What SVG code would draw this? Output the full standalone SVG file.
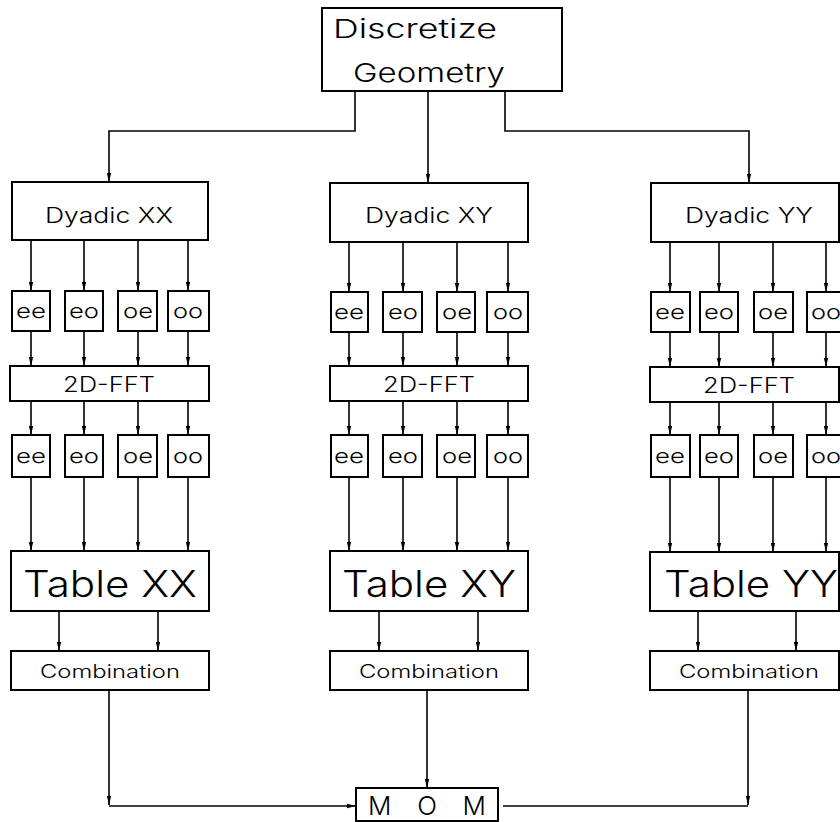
<svg xmlns="http://www.w3.org/2000/svg" width="840" height="822" viewBox="0 0 840 822">
<defs>
<style>
.box{fill:#fff;stroke:#000;stroke-width:2}
.c{fill:none;stroke:#000;stroke-width:1.6}
.t{font-family:Inter,"DejaVu Sans","Liberation Sans",sans-serif;font-weight:300;fill:#000;text-anchor:middle}
.tl{font-family:Inter,"DejaVu Sans","Liberation Sans",sans-serif;font-weight:300;fill:#000}
.s{font-size:20px}
.d{font-size:21px}
.f{font-size:21px}
.tb{font-size:37px}
.cb{font-size:18px}
</style>
<marker id="ah" viewBox="0 0 10 10" refX="10" refY="5" markerWidth="9" markerHeight="9" markerUnits="userSpaceOnUse" orient="auto">
<path d="M0,2.6 L10,5 L0,7.4 z" fill="#000"/>
</marker>
</defs>
<rect width="840" height="822" fill="#fff"/>

<g id="connectors">
<path class="c" d="M355,91 V131 H109 V182" marker-end="url(#ah)"/>
<path class="c" d="M428,91 V183" marker-end="url(#ah)"/>
<path class="c" d="M505,91 V131 H749 V183" marker-end="url(#ah)"/>
<path class="c" d="M31,240 V291" marker-end="url(#ah)"/>
<path class="c" d="M84,240 V291" marker-end="url(#ah)"/>
<path class="c" d="M138,240 V291" marker-end="url(#ah)"/>
<path class="c" d="M188,240 V291" marker-end="url(#ah)"/>
<path class="c" d="M31,331 V366" marker-end="url(#ah)"/>
<path class="c" d="M84,331 V366" marker-end="url(#ah)"/>
<path class="c" d="M138,331 V366" marker-end="url(#ah)"/>
<path class="c" d="M188,331 V366" marker-end="url(#ah)"/>
<path class="c" d="M31,401 V435" marker-end="url(#ah)"/>
<path class="c" d="M84,401 V435" marker-end="url(#ah)"/>
<path class="c" d="M138,401 V435" marker-end="url(#ah)"/>
<path class="c" d="M188,401 V435" marker-end="url(#ah)"/>
<path class="c" d="M31,477 V551" marker-end="url(#ah)"/>
<path class="c" d="M84,477 V551" marker-end="url(#ah)"/>
<path class="c" d="M138,477 V551" marker-end="url(#ah)"/>
<path class="c" d="M188,477 V551" marker-end="url(#ah)"/>
<path class="c" d="M59,611 V651" marker-end="url(#ah)"/>
<path class="c" d="M158,611 V651" marker-end="url(#ah)"/>
<path class="c" d="M349,242 V292" marker-end="url(#ah)"/>
<path class="c" d="M403,242 V292" marker-end="url(#ah)"/>
<path class="c" d="M457,242 V292" marker-end="url(#ah)"/>
<path class="c" d="M508,242 V292" marker-end="url(#ah)"/>
<path class="c" d="M349,332 V366" marker-end="url(#ah)"/>
<path class="c" d="M403,332 V366" marker-end="url(#ah)"/>
<path class="c" d="M457,332 V366" marker-end="url(#ah)"/>
<path class="c" d="M508,332 V366" marker-end="url(#ah)"/>
<path class="c" d="M349,401 V435" marker-end="url(#ah)"/>
<path class="c" d="M403,401 V435" marker-end="url(#ah)"/>
<path class="c" d="M457,401 V435" marker-end="url(#ah)"/>
<path class="c" d="M508,401 V435" marker-end="url(#ah)"/>
<path class="c" d="M349,477 V551" marker-end="url(#ah)"/>
<path class="c" d="M403,477 V551" marker-end="url(#ah)"/>
<path class="c" d="M457,477 V551" marker-end="url(#ah)"/>
<path class="c" d="M508,477 V551" marker-end="url(#ah)"/>
<path class="c" d="M379,611 V651" marker-end="url(#ah)"/>
<path class="c" d="M478,611 V651" marker-end="url(#ah)"/>
<path class="c" d="M670,242 V292" marker-end="url(#ah)"/>
<path class="c" d="M719,242 V292" marker-end="url(#ah)"/>
<path class="c" d="M773,242 V292" marker-end="url(#ah)"/>
<path class="c" d="M826,242 V292" marker-end="url(#ah)"/>
<path class="c" d="M670,332 V367" marker-end="url(#ah)"/>
<path class="c" d="M719,332 V367" marker-end="url(#ah)"/>
<path class="c" d="M773,332 V367" marker-end="url(#ah)"/>
<path class="c" d="M826,332 V367" marker-end="url(#ah)"/>
<path class="c" d="M670,402 V435" marker-end="url(#ah)"/>
<path class="c" d="M719,402 V435" marker-end="url(#ah)"/>
<path class="c" d="M773,402 V435" marker-end="url(#ah)"/>
<path class="c" d="M826,402 V435" marker-end="url(#ah)"/>
<path class="c" d="M670,477 V552" marker-end="url(#ah)"/>
<path class="c" d="M719,477 V552" marker-end="url(#ah)"/>
<path class="c" d="M773,477 V552" marker-end="url(#ah)"/>
<path class="c" d="M826,477 V552" marker-end="url(#ah)"/>
<path class="c" d="M698,611 V651" marker-end="url(#ah)"/>
<path class="c" d="M796,611 V651" marker-end="url(#ah)"/>
<path class="c" d="M109,690 V805" marker-end="url(#ah)"/>
<path class="c" d="M109,806 H356" marker-end="url(#ah)"/>
<path class="c" d="M427,690 V788" marker-end="url(#ah)"/>
<path class="c" d="M748,690 V805" marker-end="url(#ah)"/>
<path class="c" d="M503,806 H748"/>
</g>

<g id="discretize">
<rect class="box" x="322" y="8" width="240" height="83"/>
<text class="tl" x="333" y="38" font-size="26" textLength="164" lengthAdjust="spacingAndGlyphs">Discretize</text>
<text class="tl" x="353" y="82" font-size="26" textLength="152" lengthAdjust="spacingAndGlyphs">Geometry</text>
</g>

<g id="dyadic-xx">
<rect class="box" x="12" y="182" width="196" height="58"/>
<text class="t d" x="109" y="223" textLength="128" lengthAdjust="spacingAndGlyphs">Dyadic XX</text>
</g>
<g id="dyadic-xy">
<rect class="box" x="330" y="183" width="198" height="59"/>
<text class="t d" x="429" y="223" textLength="128" lengthAdjust="spacingAndGlyphs">Dyadic XY</text>
</g>
<g id="dyadic-yy">
<rect class="box" x="651" y="183" width="188" height="59"/>
<text class="t d" x="749" y="223" textLength="128" lengthAdjust="spacingAndGlyphs">Dyadic YY</text>
</g>

<g id="xx-ee-1"><rect class="box" x="12" y="291" width="38" height="40"/><text class="t s" x="31" y="318" textLength="30" lengthAdjust="spacingAndGlyphs">ee</text></g>
<g id="xx-eo-1"><rect class="box" x="65" y="291" width="38" height="40"/><text class="t s" x="84" y="318" textLength="30" lengthAdjust="spacingAndGlyphs">eo</text></g>
<g id="xx-oe-1"><rect class="box" x="118" y="291" width="39" height="40"/><text class="t s" x="138" y="318" textLength="30" lengthAdjust="spacingAndGlyphs">oe</text></g>
<g id="xx-oo-1"><rect class="box" x="168" y="291" width="41" height="40"/><text class="t s" x="188" y="318" textLength="30" lengthAdjust="spacingAndGlyphs">oo</text></g>

<g id="xy-ee-1"><rect class="box" x="331" y="292" width="37" height="40"/><text class="t s" x="349" y="319" textLength="30" lengthAdjust="spacingAndGlyphs">ee</text></g>
<g id="xy-eo-1"><rect class="box" x="383" y="292" width="39" height="40"/><text class="t s" x="403" y="319" textLength="30" lengthAdjust="spacingAndGlyphs">eo</text></g>
<g id="xy-oe-1"><rect class="box" x="437" y="292" width="38" height="40"/><text class="t s" x="457" y="319" textLength="30" lengthAdjust="spacingAndGlyphs">oe</text></g>
<g id="xy-oo-1"><rect class="box" x="487" y="292" width="41" height="40"/><text class="t s" x="508" y="319" textLength="30" lengthAdjust="spacingAndGlyphs">oo</text></g>

<g id="yy-ee-1"><rect class="box" x="651" y="292" width="39" height="40"/><text class="t s" x="670" y="319" textLength="30" lengthAdjust="spacingAndGlyphs">ee</text></g>
<g id="yy-eo-1"><rect class="box" x="700" y="292" width="38" height="40"/><text class="t s" x="719" y="319" textLength="30" lengthAdjust="spacingAndGlyphs">eo</text></g>
<g id="yy-oe-1"><rect class="box" x="754" y="292" width="39" height="40"/><text class="t s" x="773" y="319" textLength="30" lengthAdjust="spacingAndGlyphs">oe</text></g>
<g id="yy-oo-1"><rect class="box" x="807" y="292" width="34" height="40"/><text class="t s" x="826" y="319" textLength="30" lengthAdjust="spacingAndGlyphs">oo</text></g>

<g id="fft-xx"><rect class="box" x="10" y="366" width="199" height="35"/><text class="t f" x="109" y="392" textLength="92" lengthAdjust="spacingAndGlyphs">2D-FFT</text></g>
<g id="fft-xy"><rect class="box" x="330" y="366" width="198" height="35"/><text class="t f" x="429" y="392" textLength="92" lengthAdjust="spacingAndGlyphs">2D-FFT</text></g>
<g id="fft-yy"><rect class="box" x="650" y="367" width="189" height="35"/><text class="t f" x="749" y="393" textLength="92" lengthAdjust="spacingAndGlyphs">2D-FFT</text></g>

<g id="xx-ee-2"><rect class="box" x="12" y="435" width="38" height="42"/><text class="t s" x="31" y="463" textLength="30" lengthAdjust="spacingAndGlyphs">ee</text></g>
<g id="xx-eo-2"><rect class="box" x="65" y="435" width="38" height="42"/><text class="t s" x="84" y="463" textLength="30" lengthAdjust="spacingAndGlyphs">eo</text></g>
<g id="xx-oe-2"><rect class="box" x="118" y="435" width="39" height="42"/><text class="t s" x="138" y="463" textLength="30" lengthAdjust="spacingAndGlyphs">oe</text></g>
<g id="xx-oo-2"><rect class="box" x="168" y="435" width="41" height="42"/><text class="t s" x="188" y="463" textLength="30" lengthAdjust="spacingAndGlyphs">oo</text></g>

<g id="xy-ee-2"><rect class="box" x="331" y="435" width="37" height="42"/><text class="t s" x="349" y="463" textLength="30" lengthAdjust="spacingAndGlyphs">ee</text></g>
<g id="xy-eo-2"><rect class="box" x="383" y="435" width="39" height="42"/><text class="t s" x="403" y="463" textLength="30" lengthAdjust="spacingAndGlyphs">eo</text></g>
<g id="xy-oe-2"><rect class="box" x="437" y="435" width="38" height="42"/><text class="t s" x="457" y="463" textLength="30" lengthAdjust="spacingAndGlyphs">oe</text></g>
<g id="xy-oo-2"><rect class="box" x="487" y="435" width="41" height="42"/><text class="t s" x="508" y="463" textLength="30" lengthAdjust="spacingAndGlyphs">oo</text></g>

<g id="yy-ee-2"><rect class="box" x="651" y="435" width="39" height="42"/><text class="t s" x="670" y="463" textLength="30" lengthAdjust="spacingAndGlyphs">ee</text></g>
<g id="yy-eo-2"><rect class="box" x="700" y="435" width="38" height="42"/><text class="t s" x="719" y="463" textLength="30" lengthAdjust="spacingAndGlyphs">eo</text></g>
<g id="yy-oe-2"><rect class="box" x="754" y="435" width="39" height="42"/><text class="t s" x="773" y="463" textLength="30" lengthAdjust="spacingAndGlyphs">oe</text></g>
<g id="yy-oo-2"><rect class="box" x="807" y="435" width="34" height="42"/><text class="t s" x="826" y="463" textLength="30" lengthAdjust="spacingAndGlyphs">oo</text></g>

<g id="table-xx"><rect class="box" x="11" y="551" width="198" height="60"/><text class="t tb" x="110" y="597" textLength="174" lengthAdjust="spacingAndGlyphs">Table XX</text></g>
<g id="table-xy"><rect class="box" x="330" y="551" width="198" height="60"/><text class="t tb" x="429" y="597" textLength="174" lengthAdjust="spacingAndGlyphs">Table XY</text></g>
<g id="table-yy"><rect class="box" x="650" y="552" width="189" height="59"/><text class="t tb" x="751" y="597" textLength="174" lengthAdjust="spacingAndGlyphs">Table YY</text></g>

<g id="comb-xx"><rect class="box" x="11" y="651" width="198" height="39"/><text class="t cb" x="110" y="678" textLength="140" lengthAdjust="spacingAndGlyphs">Combination</text></g>
<g id="comb-xy"><rect class="box" x="330" y="651" width="198" height="39"/><text class="t cb" x="429" y="678" textLength="140" lengthAdjust="spacingAndGlyphs">Combination</text></g>
<g id="comb-yy"><rect class="box" x="650" y="651" width="189" height="39"/><text class="t cb" x="749" y="678" textLength="140" lengthAdjust="spacingAndGlyphs">Combination</text></g>

<g id="mom">
<rect class="box" x="356" y="788" width="142" height="33"/>
<text class="t" x="427" y="815" font-size="26" textLength="118" lengthAdjust="spacing">M O M</text>
</g>
</svg>
